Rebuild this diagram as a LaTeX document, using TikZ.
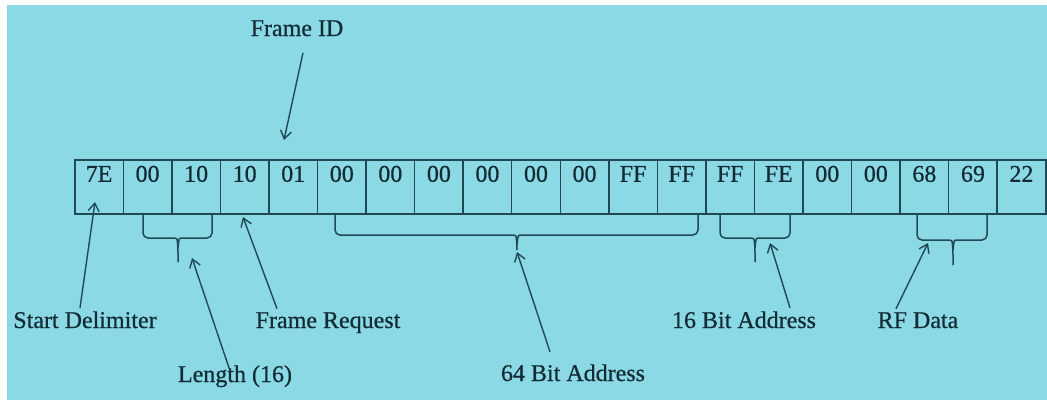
\documentclass[tikz,border=0pt]{standalone}
\usepackage{fontspec}
\setmainfont{Liberation Serif}
\newfontfamily\xbfont{Liberation Serif}[FakeBold=0.6]
\usepackage{tikz}
\usetikzlibrary{arrows.meta, positioning, calc}
\definecolor{xbbg}{HTML}{8BD9E4}
\definecolor{xbline}{HTML}{1F4A55}
\definecolor{xbtext}{HTML}{132B35}

\begin{document}
\begin{tikzpicture}[x=1pt, y=-1pt,
    cell/.style={draw=xbline, line width=1.5pt, minimum width=48.55pt, inner xsep=0pt, inner ysep=0pt,
        text height=22pt, text depth=32pt, anchor=north west, text=xbtext, font=\xbfont\fontsize{24}{28}\selectfont},
    lbl/.style={text=xbtext, font=\xbfont\fontsize{24}{28}\selectfont, anchor=base},
    ptr/.style={draw=xbline, line width=1.4pt, -{Straight Barb[length=8pt, width=11pt]}},
    brace/.style={draw=xbline, line width=1.5pt, rounded corners=5pt}]
    % background
    \fill[white] (0,0) rectangle (1047,400);
    \fill[xbbg] (7,5) rectangle (1047,400);
    \useasboundingbox (0,0) rectangle (1047,400);

    % API frame bytes
    \foreach \v [count=\i] in {7E,00,10,10,01,00,00,00,00,00,00,FF,FF,FF,FE,00,00,68,69,22} {
        \node[cell] (c\i) at ({74+(\i-1)*48.55}, 159) {\v};
    }

    % braces under grouped bytes
    \foreach \l/\r/\h/\m/\t in {143/212/238/178/262, 335/698/235/517/250, 720/790/238/755/262, 917/987/240/953/265} {
        \draw[brace] (\l,213) -- (\l,\h) -- (\m-9,\h) .. controls (\m-1,\h) .. (\m,\h+10) -- (\m,\t);
        \draw[brace] (\r,213) -- (\r,\h) -- (\m+9,\h) .. controls (\m+1,\h) .. (\m,\h+10);
    }

    % field labels
    \node[lbl] (fid) at (297,36) {Frame ID};
    \node[lbl] (sd) at (85,328) {Start Delimiter};
    \node[lbl] (fr) at (328,328) {Frame Request};
    \node[lbl] (len) at (235,382) {Length (16)};
    \node[lbl] (b64) at (573,381) {64 Bit Address};
    \node[lbl] (b16) at (744,328) {16 Bit Address};
    \node[lbl] (rf) at (918,328) {RF Data};

    % where the arrows point
    \coordinate (fidTip) at (284,140);
    \coordinate (sdTip) at (95,202);
    \coordinate (frTip) at (243,217);
    \coordinate (lenTip) at (192,258);
    \coordinate (b64Tip) at (517,252);
    \coordinate (b16Tip) at (770,243);
    \coordinate (rfTip) at (928,243);

    \draw[ptr] ($(fid.south)+(6,13)$) -- (fidTip);
    \draw[ptr] ($(sd.north)+(-5,0)$) -- (sdTip);
    \draw[ptr] ($(fr.north)+(-51,0)$) -- (frTip);
    \draw[ptr] ($(len.north)+(-5,9)$) -- (lenTip);
    \draw[ptr] ($(b64.north)+(-23,-9)$) -- (b64Tip);
    \draw[ptr] ($(b16.north)+(46,0)$) -- (b16Tip);
    \draw[ptr] ($(rf.north)+(-22,0)$) -- (rfTip);
\end{tikzpicture}
\end{document}
